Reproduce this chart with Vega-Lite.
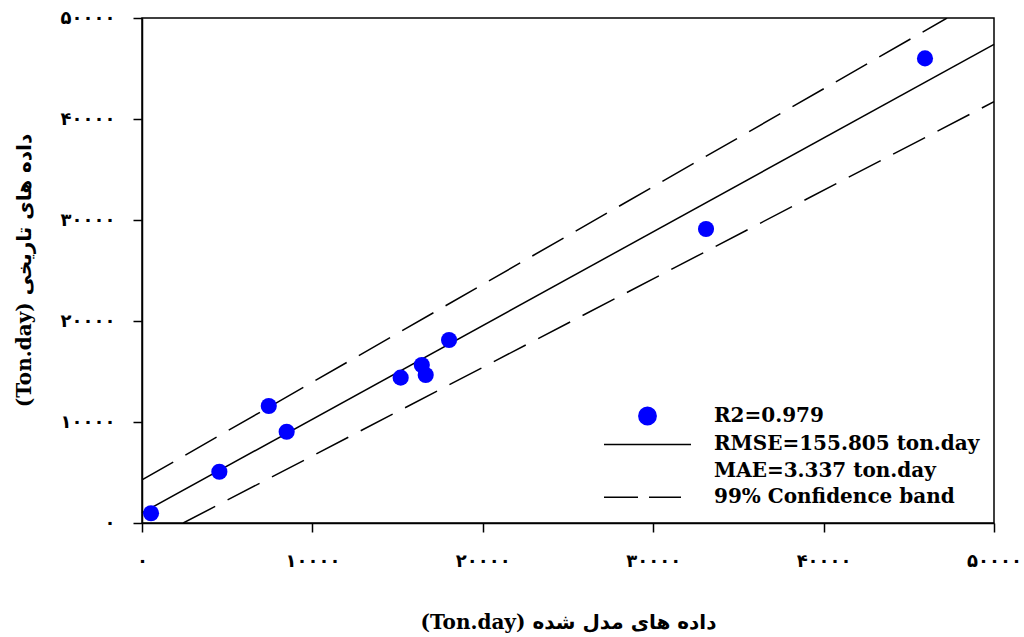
{
  "$schema": "https://vega.github.io/schema/vega-lite/v6.json",
  "width": 852,
  "height": 505,
  "autosize": {"type": "none"},
  "padding": {"left": 142, "top": 18, "right": 30, "bottom": 114},
  "background": "white",
  "config": {
    "view": {"stroke": "black", "strokeWidth": 1.5},
    "axis": {
      "grid": false,
      "domainColor": "black",
      "domainWidth": 1.5,
      "tickColor": "black",
      "tickWidth": 1.5,
      "tickSize": 9,
      "labelFont": "DejaVu Sans",
      "labelFontSize": 18,
      "labelFontWeight": "bold",
      "labelColor": "black",
      "titleFont": "DejaVu Serif, DejaVu Sans",
      "titleFontSize": 20,
      "titleFontWeight": "bold",
      "titleColor": "black"
    }
  },
  "datasets": {
    "obs": [
      {"modeled": 530, "observed": 960},
      {"modeled": 4540, "observed": 5080},
      {"modeled": 7440, "observed": 11580},
      {"modeled": 8490, "observed": 9040},
      {"modeled": 15180, "observed": 14390},
      {"modeled": 16420, "observed": 15640},
      {"modeled": 16650, "observed": 14650},
      {"modeled": 18020, "observed": 18120},
      {"modeled": 33100, "observed": 29110},
      {"modeled": 45950, "observed": 46000}
    ],
    "fit": [
      {"modeled": 0, "observed": 1000},
      {"modeled": 50000, "observed": 47390}
    ],
    "band": [
      {"side": "upper", "modeled": 0, "observed": 4260},
      {"side": "upper", "modeled": 47245, "observed": 50000},
      {"side": "lower", "modeled": 2420, "observed": 0},
      {"side": "lower", "modeled": 50000, "observed": 41710}
    ]
  },
  "layer": [
    {
      "data": {"name": "band"},
      "mark": {"type": "line", "strokeWidth": 1.5, "strokeDash": [36, 14], "clip": true},
      "encoding": {
        "x": {
          "field": "modeled", "type": "quantitative",
          "scale": {"domain": [0, 50000], "nice": false, "zero": false},
          "axis": {
            "values": [0, 10000, 20000, 30000, 40000, 50000],
            "format": "d",
            "labelExpr": "replace(replace(replace(replace(replace(replace(datum.label, regexp('0','g'), '۰'), regexp('1','g'), '۱'), regexp('2','g'), '۲'), regexp('3','g'), '۳'), regexp('4','g'), '۴'), regexp('5','g'), '۵')",
            "labelPadding": 20,
            "labelFlush": false,
            "title": "(Ton.day)  داده های مدل  شده",
            "titleY": 99,
            "titleBaseline": "middle"
          }
        },
        "y": {
          "field": "observed", "type": "quantitative",
          "scale": {"domain": [0, 50000], "nice": false, "zero": false},
          "axis": {
            "values": [0, 10000, 20000, 30000, 40000, 50000],
            "format": "d",
            "labelExpr": "replace(replace(replace(replace(replace(replace(datum.label, regexp('0','g'), '۰'), regexp('1','g'), '۱'), regexp('2','g'), '۲'), regexp('3','g'), '۳'), regexp('4','g'), '۴'), regexp('5','g'), '۵')",
            "labelPadding": 18,
            "labelFlush": false,
            "title": "(Ton.day)  داده های تاریخی",
            "titleAngle": -90,
            "titleX": -118,
            "titleY": 252,
            "titleBaseline": "middle",
            "titleAlign": "center"
          }
        },
        "detail": {"field": "side"},
        "color": {
          "datum": "99% Confidence band",
          "scale": {
            "domain": ["R2=0.979", "RMSE=155.805 ton.day", "MAE=3.337 ton.day", "99% Confidence band"],
            "range": ["#0000ff", "#000000", "#ffffff", "#000000"]
          },
          "legend": {
            "orient": "none",
            "legendX": 494.5,
            "legendY": 387,
            "title": null,
            "padding": 0,
            "symbolSize": 400,
            "symbolOffset": 0,
            "labelOffset": 55.5,
            "rowPadding": 5.4,
            "labelFont": "DejaVu Serif",
            "labelFontSize": 20,
            "labelFontWeight": "bold",
            "labelColor": "black",
            "labelLimit": 0,
            "encode": {
              "symbols": {
                "update": {
                  "shape": {"signal": "datum.index === 0 ? 'circle' : datum.index === 1 ? 'M-4.35,0L4.35,0' : datum.index === 3 ? 'M-4.35,0L-0.95,0M0.15,0L3.35,0' : 'M0,0'"},
                  "fill": {"signal": "datum.index === 0 ? '#0000ff' : 'transparent'"},
                  "stroke": {"signal": "datum.index === 0 ? 'transparent' : '#000000'"},
                  "strokeWidth": {"value": 1.5},
                  "opacity": {"value": 1},
                  "size": {"signal": "datum.index === 0 ? 300 : 400"}
                }
              }
            }
          }
        }
      }
    },
    {
      "data": {"name": "fit"},
      "mark": {"type": "line", "strokeWidth": 1.5},
      "encoding": {
        "x": {"field": "modeled", "type": "quantitative"},
        "y": {"field": "observed", "type": "quantitative"},
        "color": {"datum": "RMSE=155.805 ton.day"}
      }
    },
    {
      "data": {"name": "obs"},
      "mark": {"type": "point", "filled": true, "opacity": 1, "size": 260},
      "encoding": {
        "x": {"field": "modeled", "type": "quantitative"},
        "y": {"field": "observed", "type": "quantitative"},
        "color": {"datum": "R2=0.979"}
      }
    }
  ]
}
